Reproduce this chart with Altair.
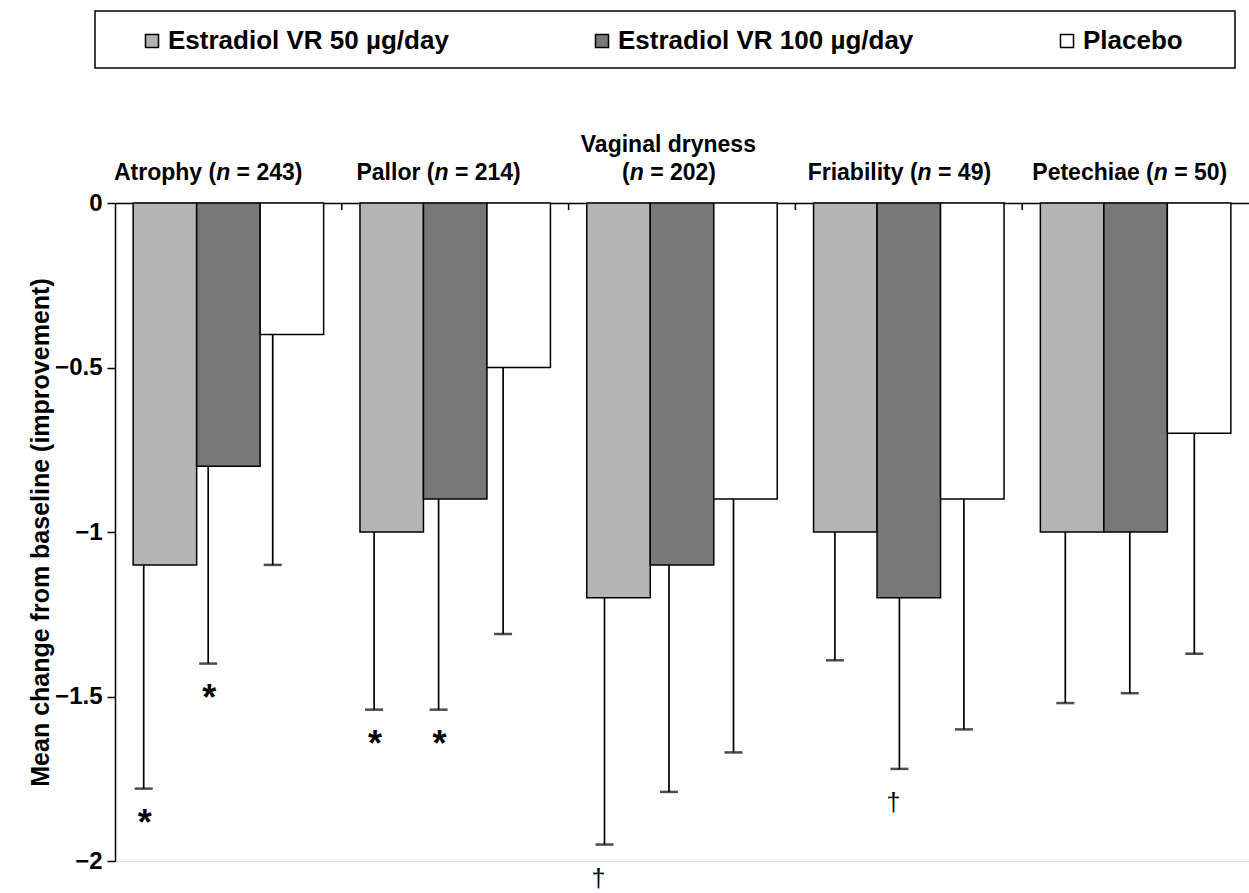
import altair as alt
import pandas as pd

# ---------------- data ----------------
groups = ["Atrophy", "Pallor", "Vaginal dryness", "Friability", "Petechiae"]
group_n = [243, 214, 202, 49, 50]
series = ["Estradiol VR 50 µg/day", "Estradiol VR 100 µg/day", "Placebo"]
colors = ["#b4b4b4", "#787878", "#ffffff"]

mean_50 = [-1.10, -1.00, -1.20, -1.00, -1.00]
mean_100 = [-0.80, -0.90, -1.10, -1.20, -1.00]
mean_pl = [-0.40, -0.50, -0.90, -0.90, -0.70]
low_50 = [-1.78, -1.54, -1.95, -1.39, -1.52]
low_100 = [-1.40, -1.54, -1.79, -1.72, -1.49]
low_pl = [-1.10, -1.31, -1.67, -1.60, -1.37]
sig_50 = ["*", "*", "†", "", ""]
sig_100 = ["*", "*", "", "†", ""]
sig_pl = ["", "", "", "", ""]

y_ticks = [0, -0.5, -1, -1.5, -2]

# ---------------- layout / style ----------------
W, H = 1134, 658
FONT = "Liberation Sans"
LAB_SIZE = 23
SHIFT_RANGE = [-22, 1130]
STEP = (SHIFT_RANGE[1] - SHIFT_RANGE[0]) / len(groups)
HALF_STEP = STEP / 2
OFF_PAD = 0.286
OFF_BW = STEP / (len(series) + 2 * OFF_PAD)

rows = []
for i, (s, means, lows, sigs) in enumerate(zip(series, [mean_50, mean_100, mean_pl],
                                               [low_50, low_100, low_pl],
                                               [sig_50, sig_100, sig_pl])):
    for g, m, lo, sg in zip(groups, means, lows, sigs):
        rows.append(dict(group=g, series=s, mean=m, low=lo, sig=sg,
                         soff=OFF_PAD * OFF_BW + (i + 0.5) * OFF_BW))
df = pd.DataFrame(rows)

# Arial/Liberation Sans Bold advance widths (per 1000 em) for label layout
BW = {' ': 278, '(': 333, ')': 333, '=': 584, 'A': 722, 'P': 667, 'V': 667, 'F': 611,
      'a': 556, 'b': 611, 'c': 556, 'd': 611, 'e': 556, 'g': 611, 'h': 611, 'i': 278,
      'l': 278, 'n': 611, 'o': 611, 'p': 611, 'r': 389, 's': 556, 't': 333, 'y': 556}
for d in "0123456789":
    BW[d] = 556


def tw(txt):
    return sum(BW.get(c, 556) for c in txt) * LAB_SIZE / 1000.0


lab_rows = []
for g, n in zip(groups, group_n):
    two_line = " " in g
    prefix = "(" if two_line else g + " ("
    suffix = f"= {n})"
    total = tw(prefix) + tw("n") + tw(" ") + tw(suffix)
    x0 = HALF_STEP - total / 2
    lab_rows.append(dict(group=g, line=0, style="normal", text=prefix, dx=x0))
    lab_rows.append(dict(group=g, line=0, style="italic", text="n", dx=x0 + tw(prefix)))
    lab_rows.append(dict(group=g, line=0, style="normal", text=suffix,
                         dx=x0 + tw(prefix) + tw("n") + tw(" ")))
    if two_line:
        lab_rows.append(dict(group=g, line=1, style="normal", text=g,
                             dx=HALF_STEP - tw(g) / 2))
lab_df = pd.DataFrame(lab_rows)

main_x = alt.Scale(domain=groups, paddingInner=0, paddingOuter=0)
shift_x = alt.Scale(domain=groups, paddingInner=0, paddingOuter=0, range=SHIFT_RANGE)
off_scale = alt.Scale(domain=series, paddingInner=0, paddingOuter=OFF_PAD)
id_off = alt.Scale(domain=[0, 100], range=[0, 100])
yscale = alt.Scale(domain=[-2, 0], nice=False)
yaxis = alt.Axis(values=y_ticks, format="~g", title="Mean change from baseline (improvement)",
                 grid=False, tickSize=8, tickWidth=1.5, tickColor="black",
                 domainColor="black", domainWidth=1.5,
                 labelFont=FONT, labelFontSize=24, labelFontWeight="bold",
                 labelColor="black", labelPadding=5,
                 titleFont=FONT, titleFontSize=25, titleFontWeight="bold",
                 titleColor="black", titleAngle=270, titleX=-75, titleY=H / 2,
                 titleAlign="center", titleBaseline="middle")


def Y(field):
    return alt.Y(field, type="quantitative", scale=yscale, axis=yaxis)


legend = alt.Legend(title=None, orient="none", legendX=24, legendY=-175,
                    direction="horizontal", symbolType="square", symbolSize=170,
                    symbolStrokeColor="black", symbolStrokeWidth=1.5,
                    labelFont=FONT, labelFontSize=26, labelFontWeight="bold",
                    labelColor="black", labelOffset=3, columnPadding=140,
                    padding=0, labelLimit=0)

frame = alt.Chart(pd.DataFrame({"k": [0]})).mark_rect(
    filled=False, stroke="black", strokeWidth=1.5).encode(
    x=alt.value(-20), x2=alt.value(1120), y=alt.value(-192), y2=alt.value(-135))

bars = alt.Chart(df).mark_bar(stroke="black", strokeWidth=1.5).encode(
    x=alt.X("group:N", scale=main_x, sort=groups,
            axis=alt.Axis(orient="top", title=None, labels=False, ticks=False,
                          domainColor="black", domainWidth=1.5)),
    xOffset=alt.XOffset("series:N", scale=off_scale, sort=series),
    y=Y("mean"),
    fill=alt.Fill("series:N", scale=alt.Scale(domain=series, range=colors), legend=legend),
)

seps = alt.Chart(pd.DataFrame({"group": groups[1:]})).mark_rule(
    color="black", strokeWidth=1.5).encode(
    x=alt.X("group:N", scale=main_x, sort=groups, bandPosition=0, axis=None),
    y=alt.value(0), y2=alt.value(7))

err = alt.Chart(df).mark_rule(color="black", strokeWidth=1.7).encode(
    x=alt.X("group:N", scale=shift_x, sort=groups, axis=None),
    xOffset=alt.XOffset("series:N", scale=off_scale, sort=series),
    y=Y("mean"), y2="low:Q")

caps = alt.Chart(df).mark_tick(color="black", thickness=2.5, size=18).encode(
    x=alt.X("group:N", scale=shift_x, sort=groups, axis=None),
    xOffset=alt.XOffset("series:N", scale=off_scale, sort=series),
    y=Y("low"))

stars = alt.Chart(df).transform_filter(alt.datum.sig == "*").mark_text(
    font=FONT, fontSize=36, fontWeight="bold", color="black",
    baseline="alphabetic", dy=46, dx=1).encode(
    x=alt.X("group:N", scale=shift_x, sort=groups, axis=None),
    xOffset=alt.XOffset("soff:Q", scale=id_off),
    y=Y("low"), text="sig:N")

daggers = alt.Chart(df).transform_filter(alt.datum.sig == "†").mark_text(
    font=FONT, fontSize=25, color="black", baseline="alphabetic", dy=42, dx=-6).encode(
    x=alt.X("group:N", scale=shift_x, sort=groups, axis=None),
    xOffset=alt.XOffset("soff:Q", scale=id_off),
    y=Y("low"), text="sig:N")


def lab_layer(cond, ypix, style):
    return alt.Chart(lab_df).transform_filter(cond).mark_text(
        font=FONT, fontSize=LAB_SIZE, fontWeight="bold", fontStyle=style,
        color="black", align="left", baseline="alphabetic").encode(
        x=alt.X("group:N", scale=shift_x, sort=groups, axis=None),
        xOffset=alt.XOffset("dx:Q", scale=id_off),
        y=alt.value(ypix), text="text:N")


lab0 = lab_layer("datum.style == 'normal' && datum.line == 0", -23, "normal")
lab0i = lab_layer("datum.style == 'italic' && datum.line == 0", -23, "italic")
lab1 = lab_layer("datum.line == 1", -51, "normal")

chart = alt.layer(frame, bars, seps, err, caps, stars, daggers, lab0, lab0i, lab1).resolve_scale(
    x="independent", xOffset="independent"
).properties(
    width=W, height=H,
    autosize=alt.AutoSizeParams(type="none"),
    padding={"left": 115, "top": 203, "right": 0, "bottom": 32},
    background="white",
).configure_view(stroke=None).configure(font=FONT)

chart.save("out.html", embed_options={"renderer": "svg", "actions": False})
